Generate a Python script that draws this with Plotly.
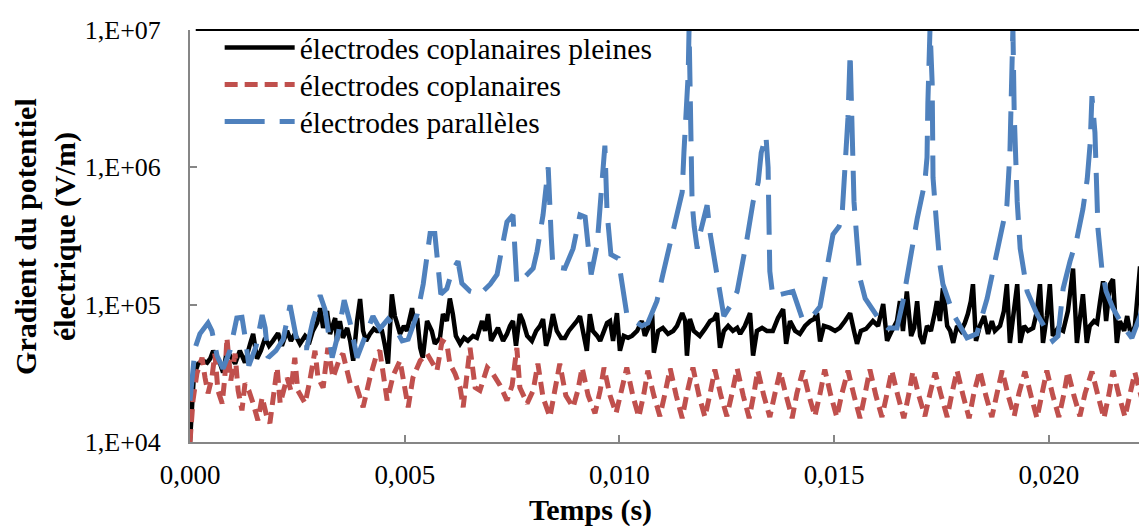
import plotly.graph_objects as go

# ---------------- data (time in ms, field in V/m) ----------------
blue_t_ms = [0.00, 0.12, 0.23, 0.35, 0.42, 0.51, 0.63, 0.77, 0.93, 1.09, 1.21, 1.28, 1.37, 1.54, 1.68, 1.75,
             1.82, 2.00, 2.17, 2.33, 2.42, 2.52, 2.72, 2.86, 3.03, 3.14, 3.31, 3.45, 3.59, 3.73, 3.89, 4.08,
             4.26, 4.42, 4.61, 4.75, 4.94, 5.08, 5.29, 5.43, 5.59, 5.70, 5.77, 5.84, 5.98, 6.10, 6.24, 6.33,
             6.52, 6.75, 6.99, 7.15, 7.26, 7.38, 7.52, 7.57, 7.61, 7.80, 7.99, 8.08, 8.22, 8.34, 8.36, 8.41,
             8.45, 8.73, 8.92, 9.08, 9.20, 9.29, 9.34, 9.48, 9.59, 9.66, 9.71, 9.80, 9.97, 10.06, 10.17, 10.34,
             10.52, 10.66, 10.87, 11.01, 11.18, 11.29, 11.46, 11.50, 11.55, 11.60, 11.62, 11.64, 11.67, 11.69,
             11.74, 11.81, 11.87, 12.04, 12.11, 12.18, 12.34, 12.43, 12.57, 12.74, 12.97, 13.11, 13.23, 13.30,
             13.41, 13.46, 13.48, 13.50, 13.57, 13.78, 14.04, 14.25, 14.44, 14.67, 14.83, 14.97, 15.11, 15.18,
             15.25, 15.32, 15.37, 15.41, 15.46, 15.53, 15.60, 15.72, 16.07, 16.25, 16.46, 16.60, 16.72, 16.93,
             17.11, 17.16, 17.18, 17.23, 17.28, 17.30, 17.39, 17.46, 17.53, 17.77, 18.09, 18.32, 18.56, 18.70,
             18.86, 19.02, 19.09, 19.14, 19.16, 19.19, 19.26, 19.33, 19.49, 19.72, 19.86, 20.09, 20.21, 20.33,
             20.49, 20.65, 20.79, 20.89, 20.96, 21.00, 21.07, 21.10, 21.14, 21.23, 21.33, 21.49, 21.72, 21.93,
             22.12, 22.28]
blue_v = [2.0e4, 4.85e4, 6.13e4, 7.0e4, 7.35e4, 6.44e4, 4.25e4, 3.42e4, 4.62e4, 8.0e4, 8.1e4, 5.9e4, 3.6e4,
          5.0e4, 8.4e4, 6.77e4, 4.11e4, 4.62e4, 5.6e4, 9.9e4, 7.35e4, 4.85e4, 4.85e4, 7.61e4, 1.17e5, 9.3e4,
          4.11e4, 6.13e4, 1.08e5, 7.35e4, 4.11e4, 5.73e4, 8.26e4, 6.66e4, 7.85e4, 7.0e4, 5.45e4, 5.6e4, 8.54e4,
          1.41e5, 3.3e5, 3.3e5, 1.97e5, 1.19e5, 1.31e5, 1.75e5, 2.07e5, 1.43e5, 1.25e5, 1.19e5, 1.41e5, 1.66e5,
          2.56e5, 4.0e5, 4.5e5, 2.44e5, 1.41e5, 1.60e5, 1.84e5, 2.44e5, 4.5e5, 1.0e6, 6.1e5, 3.13e5, 1.9e5,
          1.84e5, 2.56e5, 4.5e5, 4.35e5, 2.44e5, 1.66e5, 2.74e5, 6.6e5, 1.44e6, 4.73e5, 2.32e5, 2.17e5, 1.48e5,
          8.54e4, 7.61e4, 7.0e4, 7.35e4, 1.06e5, 1.66e5, 2.88e5, 3.85e5, 6.6e5, 1.28e6, 2.5e6, 4.8e6, 1.03e7,
          5.7e6, 1.28e6, 5.6e5, 3.7e5, 2.56e5, 3.24e5, 5.3e5, 3.3e5, 2.44e5, 1.31e5, 8.26e4, 9.7e4, 1.25e5,
          3.03e5, 5.6e5, 7.8e5, 1.28e6, 1.70e6, 1.0e6, 4.0e5, 1.75e5, 1.15e5, 1.2e5, 1.25e5, 8.0e4, 7.85e4,
          9.7e4, 1.75e5, 3.24e5, 3.7e5, 4.35e5, 1.0e6, 2.3e6, 6.8e6, 1.64e6, 5.6e5, 2.88e5, 1.55e5, 1.11e5,
          7.61e4, 6.77e4, 6.77e4, 1.06e5, 1.75e5, 4.2e5, 7.8e5, 1.18e6, 2.95e6, 1.03e7, 4.1e6, 8.4e5, 3.58e5,
          1.97e5, 1.41e5, 8.54e4, 5.73e4, 6.13e4, 1.11e5, 1.84e5, 3.24e5, 5.3e5, 1.28e6, 4.1e6, 1.03e7, 2.5e6,
          5.6e5, 2.56e5, 1.25e5, 8.54e4, 7.24e4, 5.45e4, 5.9e4, 1.31e5, 2.07e5, 3.03e5, 4.97e5, 8.2e5, 1.51e6,
          3.3e6, 1.79e6, 6.6e5, 3.58e5, 1.84e5, 1.25e5, 9.43e4, 7.0e4, 5.73e4, 8.26e4, 1.25e5]

black_t_ms = [0.00, 0.05, 0.09, 0.19, 0.30, 0.40, 0.47, 0.54, 0.61, 0.70, 0.77, 0.86, 0.95, 1.05, 1.16, 1.28,
              1.40, 1.47, 1.56, 1.65, 1.75, 1.84, 1.93, 2.05, 2.14, 2.26, 2.35, 2.44, 2.56, 2.68, 2.79, 2.86,
              2.96, 3.03, 3.10, 3.19, 3.26, 3.38, 3.42, 3.49, 3.56, 3.66, 3.73, 3.80, 3.89, 3.96, 4.03, 4.10,
              4.19, 4.28, 4.35, 4.47, 4.54, 4.61, 4.70, 4.77, 4.82, 4.89, 4.98, 5.05, 5.17, 5.22, 5.29, 5.36,
              5.42, 5.52, 5.63, 5.70, 5.82, 5.89, 5.98, 6.05, 6.12, 6.19, 6.29, 6.38, 6.47, 6.59, 6.68, 6.80,
              6.87, 6.94, 7.01, 7.08, 7.17, 7.29, 7.38, 7.45, 7.52, 7.59, 7.68, 7.75, 7.85, 7.96, 8.06, 8.15,
              8.22, 8.29, 8.36, 8.45, 8.54, 8.64, 8.73, 8.82, 8.92, 9.01, 9.08, 9.17, 9.24, 9.31, 9.38, 9.48,
              9.55, 9.64, 9.71, 9.78, 9.85, 9.94, 10.01, 10.10, 10.20, 10.29, 10.41, 10.52, 10.59, 10.66, 10.76,
              10.80, 10.90, 11.01, 11.13, 11.25, 11.34, 11.46, 11.53, 11.57, 11.64, 11.73, 11.87, 11.99, 12.11,
              12.20, 12.27, 12.34, 12.43, 12.53, 12.64, 12.74, 12.81, 12.92, 13.04, 13.11, 13.20, 13.32, 13.43,
              13.57, 13.69, 13.81, 13.88, 13.97, 14.09, 14.20, 14.32, 14.44, 14.53, 14.60, 14.67, 14.76, 14.90,
              15.02, 15.13, 15.25, 15.37, 15.46, 15.53, 15.62, 15.74, 15.90, 16.02, 16.14, 16.23, 16.34, 16.46,
              16.53, 16.60, 16.69, 16.79, 16.86, 16.93, 17.00, 17.07, 17.16, 17.25, 17.35, 17.39, 17.46, 17.53,
              17.63, 17.70, 17.77, 17.86, 17.95, 18.04, 18.11, 18.18, 18.23, 18.30, 18.39, 18.49, 18.58, 18.67,
              18.74, 18.86, 18.95, 19.02, 19.09, 19.16, 19.26, 19.33, 19.42, 19.51, 19.63, 19.72, 19.79, 19.86,
              19.95, 20.02, 20.09, 20.21, 20.33, 20.44, 20.51, 20.56, 20.65, 20.72, 20.79, 20.88, 20.95, 21.05,
              21.12, 21.19, 21.26, 21.33, 21.42, 21.49, 21.58, 21.65, 21.75, 21.82, 21.91, 22.00, 22.07, 22.12,
              22.21, 22.28]
black_v = [1.0e4, 2.0e4, 3.05e4, 3.72e4, 3.91e4, 3.78e4, 4.04e4, 4.62e4, 4.11e4, 3.72e4, 3.2e4, 4.62e4, 4.11e4,
           3.72e4, 4.62e4, 3.78e4, 5.19e4, 6.12e4, 4.04e4, 4.62e4, 5.73e4, 5.02e4, 5.45e4, 6.2e4, 5.02e4, 6.44e4,
           5.45e4, 6.12e4, 5.19e4, 5.92e4, 5.45e4, 6.44e4, 7.35e4, 9.43e4, 6.77e4, 8.98e4, 6.12e4, 7.99e4, 5.45e4,
           7.60e4, 5.73e4, 6.77e4, 5.45e4, 3.91e4, 7.60e4, 1.10e5, 6.44e4, 5.45e4, 6.12e4, 6.66e4, 6.44e4, 6.44e4,
           5.02e4, 3.72e4, 1.19e5, 8.26e4, 7.35e4, 6.12e4, 7.0e4, 6.44e4, 9.43e4, 7.35e4, 7.99e4, 4.85e4, 4.11e4,
           7.60e4, 6.44e4, 5.19e4, 5.73e4, 8.54e4, 7.60e4, 1.11e5, 8.54e4, 5.92e4, 5.19e4, 5.73e4, 5.45e4, 5.92e4,
           5.73e4, 7.60e4, 6.44e4, 8.54e4, 5.45e4, 5.92e4, 6.77e4, 5.45e4, 6.12e4, 7.0e4, 7.60e4, 5.02e4, 8.54e4,
           7.60e4, 5.92e4, 5.45e4, 6.44e4, 7.0e4, 7.86e4, 5.02e4, 5.92e4, 8.54e4, 6.44e4, 5.73e4, 5.73e4, 6.44e4,
           7.0e4, 7.60e4, 8.26e4, 5.92e4, 4.62e4, 8.54e4, 6.44e4, 5.92e4, 5.45e4, 6.44e4, 7.35e4, 7.60e4, 5.45e4,
           8.68e4, 4.62e4, 5.92e4, 5.73e4, 5.92e4, 6.44e4, 7.60e4, 5.92e4, 6.66e4, 8.54e4, 4.47e4, 6.44e4, 6.77e4,
           6.12e4, 6.44e4, 7.0e4, 8.68e4, 7.60e4, 4.25e4, 7.86e4, 6.44e4, 5.92e4, 6.66e4, 7.60e4, 7.86e4, 8.68e4,
           4.85e4, 6.44e4, 7.0e4, 6.44e4, 6.77e4, 6.12e4, 7.0e4, 8.68e4, 4.25e4, 6.44e4, 6.77e4, 6.44e4, 6.44e4,
           7.99e4, 9.28e4, 5.19e4, 7.60e4, 6.44e4, 6.12e4, 7.0e4, 7.60e4, 7.86e4, 8.68e4, 5.4e4, 7.0e4, 6.77e4,
           6.44e4, 6.77e4, 7.60e4, 8.68e4, 6.44e4, 5.19e4, 6.44e4, 6.66e4, 7.60e4, 7.0e4, 1.01e5, 5.45e4, 6.44e4,
           7.60e4, 1.06e5, 6.44e4, 1.25e5, 5.92e4, 6.77e4, 1.06e5, 5.92e4, 5.19e4, 7.0e4, 6.44e4, 8.98e4, 1.06e5,
           7.60e4, 1.32e5, 7.0e4, 6.44e4, 5.27e4, 7.0e4, 6.44e4, 7.35e4, 8.54e4, 1.06e5, 1.41e5, 5.45e4, 7.0e4,
           8.26e4, 6.12e4, 7.60e4, 6.44e4, 7.0e4, 8.98e4, 1.41e5, 5.27e4, 7.60e4, 1.41e5, 5.27e4, 7.0e4, 6.44e4,
           6.77e4, 8.98e4, 1.41e5, 5.27e4, 8.26e4, 1.41e5, 5.92e4, 6.77e4, 6.44e4, 8.98e4, 1.36e5, 1.83e5, 5.27e4,
           7.60e4, 1.19e5, 5.27e4, 7.0e4, 7.60e4, 7.35e4, 1.06e5, 1.48e5, 7.60e4, 1.41e5, 1.53e5, 5.27e4, 7.60e4,
           6.44e4, 8.26e4, 5.92e4, 7.0e4, 1.25e5, 1.90e5, 5.27e4, 9.75e4]

red_t_ms = [0.00, 0.07, 0.16, 0.28, 0.35, 0.42, 0.51, 0.58, 0.65, 0.75, 0.81, 0.86, 0.95, 1.05, 1.12, 1.21,
            1.28, 1.37, 1.47, 1.58, 1.68, 1.79, 1.86, 1.93, 2.03, 2.10, 2.26, 2.35, 2.44, 2.51, 2.68, 2.79,
            2.91, 2.98, 3.10, 3.21, 3.33, 3.49, 3.56, 3.73, 3.87, 4.03, 4.19, 4.35, 4.42, 4.59, 4.73, 4.89,
            4.98, 5.08, 5.19, 5.36, 5.52, 5.63, 5.75, 5.87, 5.98, 6.05, 6.17, 6.29, 6.36, 6.52, 6.64, 6.75,
            6.92, 7.05, 7.22, 7.38, 7.50, 7.61, 7.68, 7.85, 7.99, 8.10, 8.22, 8.38, 8.50, 8.61, 8.75, 8.92,
            9.03, 9.13, 9.27, 9.43, 9.55,
            9.64, 9.78, 9.92, 10.03, 10.17, 10.31, 10.45, 10.57, 10.66, 10.80, 10.94, 11.06, 11.18, 11.32,
            11.46, 11.57, 11.71, 11.85, 11.99, 12.11, 12.22, 12.36, 12.50, 12.62, 12.74, 12.88, 13.02, 13.13,
            13.22, 13.36, 13.50, 13.62, 13.74, 13.88, 14.02, 14.13, 14.27, 14.41, 14.55, 14.67, 14.78, 14.92,
            15.06, 15.18, 15.32, 15.46, 15.60, 15.72, 15.83, 15.97, 16.11, 16.23, 16.34, 16.48, 16.62, 16.74,
            16.83, 16.97, 17.11, 17.23, 17.35, 17.49, 17.63, 17.74, 17.86, 18.00, 18.14, 18.25, 18.39, 18.53,
            18.67, 18.79, 18.91, 19.05, 19.19, 19.30, 19.44, 19.58, 19.72, 19.84, 19.95, 20.09, 20.23, 20.35,
            20.44, 20.58, 20.72, 20.84, 21.00, 21.14, 21.28, 21.40, 21.49, 21.63, 21.77, 21.89, 22.00, 22.14,
            22.28]
red_v = [1.0e4, 2.01e4, 3.15e4, 4.11e4, 2.94e4, 2.26e4, 2.94e4, 4.39e4, 2.37e4, 1.91e4, 2.94e4, 5.73e4, 2.80e4,
         4.39e4, 2.37e4, 1.70e4, 2.67e4, 2.37e4, 1.91e4, 1.44e4, 2.11e4, 1.52e4, 1.37e4, 2.11e4, 3.48e4, 1.91e4,
         2.94e4, 2.37e4, 4.11e4, 2.37e4, 1.91e4, 2.80e4, 4.62e4, 2.94e4, 2.49e4, 4.85e4, 2.94e4, 4.11e4, 4.39e4,
         2.67e4, 2.58e4, 1.79e4, 2.94e4, 4.39e4, 4.62e4, 2.01e4, 3.05e4, 3.91e4, 2.58e4, 1.79e4, 2.94e4, 3.91e4,
         4.39e4, 3.78e4, 3.31e4, 5.45e4, 5.19e4, 3.72e4, 3.15e4, 2.49e4, 1.79e4, 4.85e4, 2.49e4, 2.37e4, 3.48e4,
         3.15e4, 2.58e4, 2.01e4, 2.58e4, 4.85e4, 2.49e4, 1.91e4, 2.37e4, 3.72e4, 2.11e4, 1.52e4, 2.37e4, 3.72e4,
         2.18e4, 1.79e4, 2.37e4, 3.48e4, 2.18e4, 1.62e4, 2.37e4,
         3.48e4, 2.18e4, 1.62e4, 2.26e4, 3.48e4, 2.18e4, 1.52e4, 2.26e4, 3.31e4, 2.18e4, 1.54e4, 2.26e4, 3.43e4,
         2.18e4, 1.49e4, 2.26e4, 3.48e4, 2.18e4, 1.52e4, 2.26e4, 3.37e4, 2.18e4, 1.54e4, 2.26e4, 3.43e4, 2.18e4,
         1.49e4, 2.26e4, 3.31e4, 2.18e4, 1.52e4, 2.26e4, 3.26e4, 2.18e4, 1.49e4, 2.26e4, 3.31e4, 2.18e4, 1.54e4,
         2.26e4, 3.37e4, 2.18e4, 1.52e4, 2.26e4, 3.31e4, 2.18e4, 1.49e4, 2.26e4, 3.37e4, 2.18e4, 1.52e4, 2.26e4,
         3.31e4, 2.18e4, 1.49e4, 2.26e4, 3.26e4, 2.18e4, 1.54e4, 2.26e4, 3.20e4, 2.18e4, 1.52e4, 2.26e4, 3.31e4,
         2.18e4, 1.49e4, 2.26e4, 3.31e4, 2.18e4, 1.52e4, 2.26e4, 3.31e4, 2.18e4, 1.54e4, 2.26e4, 3.26e4, 2.18e4,
         1.49e4, 2.26e4, 3.31e4, 2.18e4, 1.52e4, 2.26e4, 3.26e4, 2.18e4, 1.54e4, 2.26e4, 3.26e4, 2.18e4, 1.49e4,
         2.26e4, 3.31e4, 2.18e4, 1.52e4, 2.26e4, 3.20e4, 2.18e4, 1.52e4]

series_names = ["électrodes coplanaires pleines", "électrodes coplanaires", "électrodes parallèles"]
x_tick_vals = [0.000, 0.005, 0.010, 0.015, 0.020]
x_tick_text = ["0,000", "0,005", "0,010", "0,015", "0,020"]
y_tick_vals = [1e4, 1e5, 1e6, 1e7]
y_tick_text = ["1,E+04", "1,E+05", "1,E+06", "1,E+07"]

# ---------------- figure ----------------
SERIF = "Liberation Serif, Times New Roman, serif"
AXIS_GREY = "#868686"

def sec(ms):
    return [v / 1000.0 for v in ms]

fig = go.Figure()
fig.add_trace(go.Scatter(x=sec(black_t_ms), y=black_v, mode="lines", name=series_names[0],
                         line=dict(color="#000000", width=4.5), legend="legend"))
fig.add_trace(go.Scatter(x=sec(red_t_ms), y=red_v, mode="lines", name=series_names[1],
                         line=dict(color="#C0504D", width=5, dash="13px,7px"), legend="legend2"))
fig.add_trace(go.Scatter(x=sec(blue_t_ms), y=blue_v, mode="lines", name=series_names[2],
                         line=dict(color="#4F81BD", width=5, dash="40px,15px"), legend="legend3"))

def legend_box(yfrac):
    return dict(x=0.031, y=yfrac, xanchor="left", yanchor="middle", bgcolor="rgba(0,0,0,0)",
                font=dict(family=SERIF, size=29.5, color="black"), itemwidth=70)

# the page body has an 8px default margin: margins below compensate for it
fig.update_layout(
    width=1147, height=526,
    margin=dict(l=182, r=8, t=19, b=92, pad=0),
    paper_bgcolor="white", plot_bgcolor="white",
    font=dict(family=SERIF, color="black"),
    showlegend=True,
    legend=legend_box(0.957),
    legend2=legend_box(0.867),
    legend3=legend_box(0.777),
    xaxis=dict(range=[0, 0.022282], tickvals=x_tick_vals, ticktext=x_tick_text,
               ticks="inside", ticklen=7, tickwidth=1.5, tickcolor=AXIS_GREY,
               showline=True, linecolor=AXIS_GREY, linewidth=2, mirror=False,
               showgrid=False, zeroline=False,
               tickfont=dict(family=SERIF, size=27, color="black"), ticklabelstandoff=8),
    yaxis=dict(type="log", range=[4, 7], tickvals=y_tick_vals, ticktext=y_tick_text,
               ticks="inside", ticklen=7, tickwidth=1.5, tickcolor=AXIS_GREY,
               showline=True, linecolor=AXIS_GREY, linewidth=2, mirror=False,
               showgrid=False, zeroline=False,
               tickfont=dict(family=SERIF, size=26, color="black"), ticklabelstandoff=22),
    shapes=[dict(type="line", xref="paper", yref="paper", x0=0.006, x1=1, y0=1, y1=1,
                 line=dict(color="black", width=2))],
    annotations=[
        dict(text="<b>Temps (s)</b>", xref="paper", yref="paper", x=0.419, y=-0.164,
             xanchor="center", yanchor="middle", showarrow=False,
             font=dict(family=SERIF, size=30, color="black")),
        dict(text="<b>Gradient du potentiel<br>électrique (V/m)</b>", xref="paper", yref="paper",
             x=-0.151, y=0.499, xanchor="center", yanchor="middle", textangle=-90, showarrow=False,
             font=dict(family=SERIF, size=30, color="black")),
    ],
)

fig.write_html("out.html")
